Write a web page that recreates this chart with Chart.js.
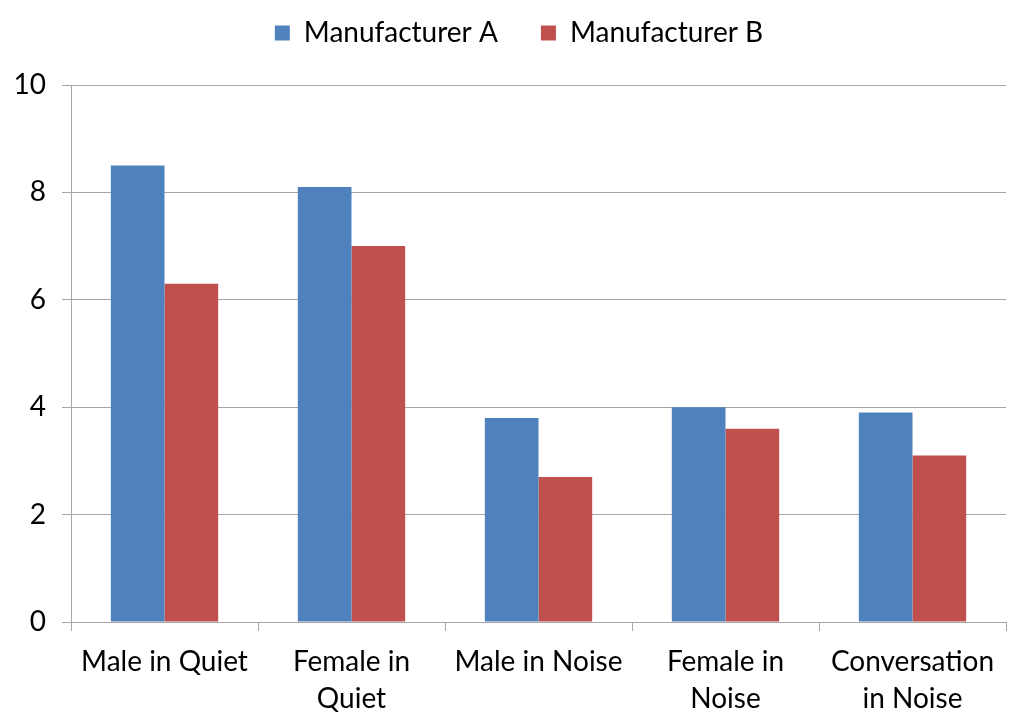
<!DOCTYPE html>
<html lang="en">
<head>
    <meta charset="UTF-8">
    <title>Manufacturer comparison</title>
    <style>
        html, body {
            margin: 0;
            padding: 0;
            background: #fff;
        }
        #wrap {
            width: 1024px;
            height: 727px;
        }
    </style>
</head>
<body>
    <div id="wrap">
        <canvas id="myChart"></canvas>
    </div>

    <script src="https://cdn.jsdelivr.net/npm/chart.js"></script>
    <script>
        const categories = [
            'Male in Quiet',
            ['Female in', 'Quiet'],
            'Male in Noise',
            ['Female in', 'Noise'],
            ['Conversation', 'in Noise']
        ];
        const manufacturerA = [8.5, 8.1, 3.8, 4.0, 3.9];
        const manufacturerB = [6.3, 7.0, 2.7, 3.6, 3.1];
        const yTicks = [0, 2, 4, 6, 8, 10];

        const font = { family: 'Lato, "Open Sans", sans-serif', size: 28 };
        const gridColor = '#a6a6a6';

        // wide spacing between legend items, but keep them near the top
        const legendGap = {
            id: 'legendGap',
            afterInit(chart) {
                const fit = chart.legend.fit;
                chart.legend.fit = function () {
                    fit.call(this);
                    this.height = 109;
                };
            },
            afterLayout(chart) {
                // nudge the centred legend a bit to the right
                chart.legend.left += 32;
            }
        };

        var ctx = document.getElementById('myChart').getContext('2d');
        var myChart = new Chart(ctx, {
            type: 'bar',
            data: {
                labels: categories,
                datasets: [{
                    label: 'Manufacturer A',
                    data: manufacturerA,
                    backgroundColor: '#4f81bd',
                    barPercentage: 1,
                    categoryPercentage: 0.574
                },
                {
                    label: 'Manufacturer B',
                    data: manufacturerB,
                    backgroundColor: '#c0504d',
                    barPercentage: 1,
                    categoryPercentage: 0.574
                }]
            },
            options: {
                responsive: true,
                maintainAspectRatio: false,
                animation: false,
                layout: {
                    padding: { top: -24, right: 18, left: 0, bottom: 0 }
                },
                plugins: {
                    legend: {
                        position: 'top',
                        labels: {
                            font: font,
                            color: '#000',
                            boxWidth: 15,
                            boxHeight: 15,
                            padding: 43
                        }
                    },
                    tooltip: { enabled: false }
                },
                scales: {
                    x: {
                        offset: true,
                        grid: {
                            offset: true,
                            drawOnChartArea: false,
                            drawTicks: true,
                            tickLength: 9,
                            color: gridColor
                        },
                        border: { color: gridColor },
                        ticks: {
                            font: Object.assign({ lineHeight: 1.3 }, font),
                            color: '#000',
                            maxRotation: 0,
                            padding: 13
                        },
                        afterFit: function (scale) {
                            scale.height = 105;
                        }
                    },
                    y: {
                        min: 0,
                        max: 10,
                        afterBuildTicks: function (scale) {
                            scale.ticks = yTicks.map(v => ({ value: v }));
                        },
                        grid: {
                            color: gridColor,
                            tickLength: 9
                        },
                        border: { color: gridColor },
                        ticks: {
                            font: font,
                            color: '#000',
                            padding: 16
                        },
                        afterFit: function (scale) {
                            scale.width = 71;
                        }
                    }
                }
            },
            plugins: [legendGap]
        });
    </script>
</body>
</html>
